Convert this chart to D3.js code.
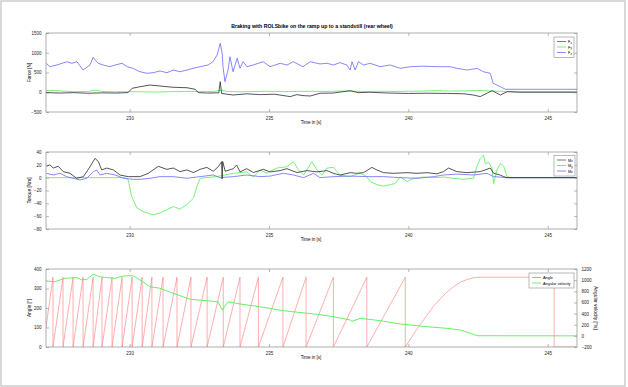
<!DOCTYPE html>
<html>
<head>
<meta charset="utf-8">
<script src="https://cdn.jsdelivr.net/npm/d3@7"></script>
<style>
  body { margin: 0; background: #fff; }
  svg { display: block; font-family: "Liberation Sans", Arial, sans-serif; }
  .tick text { fill: #222; }
</style>
</head>
<body>
<svg id="chart" width="628" height="387"></svg>
<script>
var timeTicks = [230, 235, 240, 245],
    timeDomain = [227, 246.05];

// force [N]: [time, value]
var forceX = [[227.0,-10],[227.5,-20],[228.0,-10],[228.5,-25],[229.0,-15],[229.5,-20],[229.94,-10],[230.09,100],
  [230.37,140],[230.73,183],[231.09,158],[231.56,126],[232.06,114],[232.35,75],[232.46,-10],[232.8,-20],[233.2,-15],
  [233.25,267],[233.3,-30],[233.71,-70],[234.2,-40],[234.7,-60],[235.2,-50],[235.76,-110],[236.0,-60],[236.22,-85],
  [236.48,-95],[236.83,-25],[237.3,-20],[237.91,40],[238.2,-10],[238.6,0],[239.3,-20],[240.0,-30],[240.7,-25],
  [241.4,-30],[242.0,-40],[242.33,-70],[242.58,-110],[242.83,-20],[243.01,40],[243.3,-70],[243.55,15],[244.0,0],[246.05,0]];
var forceY = [[227.0,40],[227.3,45],[227.6,30],[228.0,15],[228.5,20],[228.8,56],[229.0,20],[229.5,10],[230.0,15],
  [230.5,10],[231.0,5],[231.5,15],[232.0,20],[232.5,20],[233.0,15],[233.3,56],[233.5,20],[234.0,10],[234.5,20],
  [235.0,25],[235.5,15],[236.0,20],[236.5,25],[237.0,20],[237.5,30],[238.0,25],[238.5,20],[239.0,25],[239.5,20],
  [240.0,25],[240.5,30],[241.0,40],[241.5,30],[242.0,35],[242.5,45],[243.0,30],[243.5,20],[244.0,15],[246.05,15]];
var forceZ = [[227.0,733],[227.14,647],[227.39,690],[227.75,773],[227.93,733],[228.11,773],[228.33,563],[228.58,690],
  [228.69,885],[228.87,733],[229.05,690],[229.3,647],[229.48,690],[229.73,733],[229.91,647],[230.12,605],[230.37,520],
  [230.63,480],[230.84,495],[231.09,538],[231.34,495],[231.56,563],[231.81,520],[232.06,563],[232.28,605],[232.53,647],
  [232.81,690],[232.99,773],[233.14,943],[233.25,1240],[233.32,986],[233.35,647],[233.42,267],[233.53,563],[233.6,900],
  [233.71,520],[233.86,860],[233.96,605],[234.07,773],[234.21,647],[234.43,690],[234.79,773],[235.04,647],[235.4,733],
  [235.65,690],[235.87,773],[236.22,647],[236.48,773],[236.83,716],[237.08,733],[237.31,690],[237.55,750],[237.79,690],
  [237.91,563],[237.98,773],[238.09,563],[238.21,773],[238.39,690],[238.63,733],[238.99,647],[239.35,690],[239.71,605],
  [240.07,647],[240.53,660],[241.03,647],[241.5,647],[241.75,605],[242.11,563],[242.47,605],[242.69,520],[242.94,480],
  [243.04,227],[243.3,141],[243.48,75],[246.05,75]];

// torque [Nm]
var torqueX = [[227.02,17.7],[227.14,20],[227.26,15],[227.44,17.7],[227.62,9.4],[227.86,6.8],[228.1,-1],[228.34,1.6],
  [228.52,13],[228.76,30],[228.88,25],[229.0,12],[229.18,15],[229.42,12],[229.66,4],[229.95,1.6],[230.37,1.6],
  [230.67,6.8],[231.03,17.7],[231.33,13],[231.57,15],[231.81,9.4],[232.05,12],[232.29,8],[232.53,13],[232.77,16],
  [233.0,10],[233.18,17],[233.3,25],[233.32,-2],[233.34,25],[233.43,10],[233.72,14],[233.84,19.8],[233.96,9],
  [234.2,14],[234.44,8],[234.8,13],[235.04,9],[235.4,11],[235.64,14],[236.0,8],[236.36,11],[236.72,9],[237.08,11],
  [237.31,6.8],[237.55,4],[237.91,7.8],[238.15,6.8],[238.39,7.8],[238.69,16],[238.87,12],[239.11,7.8],[239.47,6.8],
  [239.95,7.8],[240.31,6.8],[240.67,7.8],[241.02,6],[241.26,9.4],[241.44,15],[241.74,9.4],[242.1,7.8],[242.58,9.4],
  [242.82,13],[242.94,15],[243.06,6.8],[243.3,4],[243.42,1.6],[243.54,0],[246.05,0]];
var torqueY = [[227.0,0],[229.84,0],[229.95,-3.6],[230.07,-29],[230.26,-47],[230.49,-53],[230.85,-58],[231.09,-55],
  [231.33,-50],[231.57,-45],[231.81,-49],[232.05,-42],[232.29,-32],[232.41,-14],[232.53,-1],[233.17,2],[233.72,6.8],
  [234.2,9],[234.44,1],[234.68,12],[234.92,7],[235.28,15],[235.64,17],[235.88,25],[236.06,12],[236.24,4],[236.54,25],
  [236.72,12],[236.9,4],[237.08,15],[237.31,16],[237.55,4],[237.91,1.6],[238.27,7],[238.51,1.6],[238.63,-6],
  [238.87,-11],[239.11,-13],[239.35,-11],[239.53,-9],[239.71,1],[239.95,-6],[240.19,-1],[240.55,1],[240.91,0],
  [241.26,1],[241.62,-1],[241.98,-2.5],[242.34,-1],[242.46,17.7],[242.58,30],[242.7,35],[242.76,22],[242.88,24],
  [243.0,15],[243.06,-9],[243.18,12],[243.3,22],[243.42,17.7],[243.54,1.6],[243.66,0],[246.05,0]];
var torqueZ = [[227.02,6.8],[227.26,4.2],[227.5,6.8],[227.74,1.6],[227.98,-1],[228.22,-3.6],[228.46,-1],[228.7,9.3],
  [228.82,12],[228.94,4.2],[229.18,6.8],[229.48,4.2],[229.78,-1],[230.14,-2.6],[230.37,-2.6],[230.73,-1],[231.09,1.6],
  [231.57,1.6],[232.05,-1],[232.53,1.6],[233.0,4.2],[233.24,0],[233.72,1.6],[234.2,4.2],[234.68,1.6],[235.04,2.5],
  [235.52,6.8],[235.88,4.2],[236.24,0],[236.6,6.8],[236.83,0],[237.31,1.6],[237.91,2.5],[238.51,1.6],[239.11,1.6],
  [239.71,0],[240.31,-1],[240.91,1.6],[241.26,4.2],[241.74,5.5],[242.34,4.2],[242.82,6.8],[243.06,1.6],[243.54,0],[246.05,0]];

// angle [deg] (wraps at 360) and angular velocity [deg/s]
var angle = [[227.0,100],[227.25,358],[227.25,0],[227.61,358],[227.61,0],[227.97,358],[227.97,0],[228.33,358],[228.33,0],
  [228.69,358],[228.69,0],[229.01,358],[229.01,0],[229.37,358],[229.37,0],[229.73,358],[229.73,0],[230.09,358],[230.09,0],
  [230.45,358],[230.45,0],[230.8,358],[230.8,0],[231.2,358],[231.2,0],[231.7,358],[231.7,0],[232.2,358],[232.2,0],
  [232.78,358],[232.78,0],[233.36,358],[233.36,0],[233.96,358],[233.96,0],[234.62,358],[234.62,0],[235.5,358],[235.5,0],
  [236.33,358],[236.33,0],[237.31,358],[237.31,0],[238.51,358],[238.51,0],[239.89,358],[239.89,0],
  [240.3,90],[240.89,207],[241.3,270],[241.61,309],[241.9,335],[242.11,346],[242.33,355],[242.6,358],
  [245.23,358],[245.23,0],[246.05,0]];
var angVel = [[227.0,985],[227.32,972],[227.68,1033],[228.11,1045],[228.29,1003],[228.47,1015],[228.69,1105],[228.94,1062],
  [229.19,1045],[229.48,1033],[229.76,1074],[230.12,1080],[230.37,1003],[230.73,882],[231.09,854],[231.56,764],
  [232.17,656],[232.78,631],[233.17,613],[233.32,464],[233.53,613],[233.96,572],[234.68,523],[235.51,452],[236.37,405],
  [236.73,387],[237.3,344],[237.91,285],[237.98,260],[238.27,315],[238.99,272],[239.71,213],[240.07,195],[240.68,164],
  [241.39,135],[241.86,105],[242.22,46],[242.47,2],[246.05,0]];

var svg = d3.select("#chart");
var left = 46, right = 577;
var axisColor = "#8a8a8a", fontSize = 4.5;
var fmt = d3.format("d");

svg.append("rect").attr("x", 1).attr("y", 1).attr("width", 624).attr("height", 385)
    .attr("fill", "#fff").attr("stroke", "#c9c9c9").attr("stroke-width", 1.4);

svg.append("text").attr("x", 312).attr("y", 27.5).attr("text-anchor", "middle")
    .attr("font-size", 5.2).attr("font-weight", "bold")
    .text("Braking with ROLSbike on the ramp up to a standstill (rear wheel)");

var x = d3.scaleLinear().domain(timeDomain).range([left, right]);

function panel(top, bottom, yDomain, yTicks, yLabel) {
  var g = svg.append("g");
  var y = d3.scaleLinear().domain(yDomain).range([bottom, top]);
  var clipId = "clip" + top;
  svg.append("clipPath").attr("id", clipId).append("rect")
      .attr("x", left).attr("y", top).attr("width", right - left).attr("height", bottom - top);

  function styleAxis(a) {
    a.select(".domain").remove();
    a.selectAll(".tick line").attr("stroke", axisColor).attr("stroke-width", 0.6);
    a.selectAll(".tick text").attr("font-size", fontSize);
  }
  g.append("g").attr("transform", "translate(0," + bottom + ")")
      .call(d3.axisBottom(x).tickValues(timeTicks).tickSize(-3).tickPadding(4.5).tickFormat(fmt)).call(styleAxis);
  g.append("g").attr("transform", "translate(0," + top + ")")
      .call(d3.axisTop(x).tickValues(timeTicks).tickSize(-3).tickFormat("")).call(styleAxis);
  g.append("g").attr("transform", "translate(" + left + ",0)")
      .call(d3.axisLeft(y).tickValues(yTicks).tickSize(-3).tickPadding(4.5).tickFormat(fmt)).call(styleAxis);

  g.append("text").attr("x", 311).attr("y", bottom + 11.5).attr("text-anchor", "middle")
      .attr("font-size", fontSize).text("Time in [s]");
  g.append("text").attr("transform", "translate(31," + (top + bottom) / 2 + ") rotate(-90)")
      .attr("text-anchor", "middle").attr("font-size", fontSize + 0.3).text(yLabel);

  var plot = g.append("g").attr("clip-path", "url(#" + clipId + ")");
  return { g: g, y: y, plot: plot, top: top, bottom: bottom, styleAxis: styleAxis };
}

function frame(p, withRightTicks, yTicks) {
  if (withRightTicks) {
    p.g.append("g").attr("transform", "translate(" + right + ",0)")
        .call(d3.axisRight(p.y).tickValues(yTicks).tickSize(-3).tickFormat("")).call(p.styleAxis);
  }
  p.g.append("rect").attr("x", left).attr("y", p.top).attr("width", right - left).attr("height", p.bottom - p.top)
      .attr("fill", "none").attr("stroke", axisColor).attr("stroke-width", 0.7);
}

function drawLine(p, y, data, color, width) {
  var line = d3.line().x(function(d) { return x(d[0]); }).y(function(d) { return y(d[1]); });
  p.plot.append("path").datum(data).attr("d", line)
      .attr("fill", "none").attr("stroke", color).attr("stroke-width", width || 0.8)
      .attr("stroke-linejoin", "round");
}

function legend(p, x0, y0, w, items) {
  var lg = p.g.append("g");
  lg.append("rect").attr("x", x0).attr("y", y0).attr("width", w).attr("height", items.length * 5.5 + 4)
      .attr("fill", "#fff").attr("stroke", axisColor).attr("stroke-width", 0.6);
  items.forEach(function(it, i) {
    var yy = y0 + 4.5 + i * 5.5;
    lg.append("line").attr("x1", x0 + 3).attr("x2", x0 + 12).attr("y1", yy).attr("y2", yy)
        .attr("stroke", it.color).attr("stroke-width", 0.8);
    var t = lg.append("text").attr("x", x0 + 14).attr("y", yy + 1.5).attr("font-size", fontSize - 0.6);
    if (it.sub) {
      t.append("tspan").text(it.name);
      t.append("tspan").attr("font-size", fontSize - 1.6).attr("dy", 0.8).text(it.sub);
    } else {
      t.text(it.name);
    }
  });
}

var black = "#2a2a2a", green = "#55ee55", blue = "#6a6aff", red = "#ff7777";

// panel 1: forces
var p1 = panel(33, 112, [-500, 1500], [-500, 0, 500, 1000, 1500], "Force [N]");
drawLine(p1, p1.y, forceZ, blue);
drawLine(p1, p1.y, forceY, green);
drawLine(p1, p1.y, forceX, black);
frame(p1, true, [-500, 0, 500, 1000, 1500]);
legend(p1, 554, 37, 20, [{name: "F", sub: "x", color: "#555"}, {name: "F", sub: "y", color: green}, {name: "F", sub: "z", color: blue}]);

// panel 2: torques
var p2 = panel(152, 229, [-80, 40], [-80, -60, -40, -20, 0, 20, 40], "Torque [Nm]");
drawLine(p2, p2.y, torqueY, green);
drawLine(p2, p2.y, torqueZ, blue);
drawLine(p2, p2.y, torqueX, black);
frame(p2, true, [-80, -60, -40, -20, 0, 20, 40]);
legend(p2, 554, 155.5, 21, [{name: "M", sub: "x", color: "#555"}, {name: "M", sub: "y", color: green}, {name: "M", sub: "z", color: blue}]);

// panel 3: angle and angular velocity
var p3 = panel(269, 347, [0, 400], [0, 100, 200, 300, 400], "Angle [°]");
var yVel = d3.scaleLinear().domain([-200, 1200]).range([347, 269]);
drawLine(p3, p3.y, angle, red, 0.6);
drawLine(p3, yVel, angVel, green, 0.9);
p3.g.append("g").attr("transform", "translate(" + right + ",0)")
    .call(d3.axisRight(yVel).tickValues(d3.range(-200, 1201, 200)).tickSize(-3).tickPadding(4.5).tickFormat(fmt))
    .call(p3.styleAxis);
p3.g.append("text").attr("transform", "translate(594,308) rotate(90)")
    .attr("text-anchor", "middle").attr("font-size", fontSize + 0.3).text("Angular velocity [°/s]");
frame(p3, false);
legend(p3, 529, 273, 45, [{name: "Angle", color: red}, {name: "Angular velocity", color: green}]);
</script>
</body>
</html>
